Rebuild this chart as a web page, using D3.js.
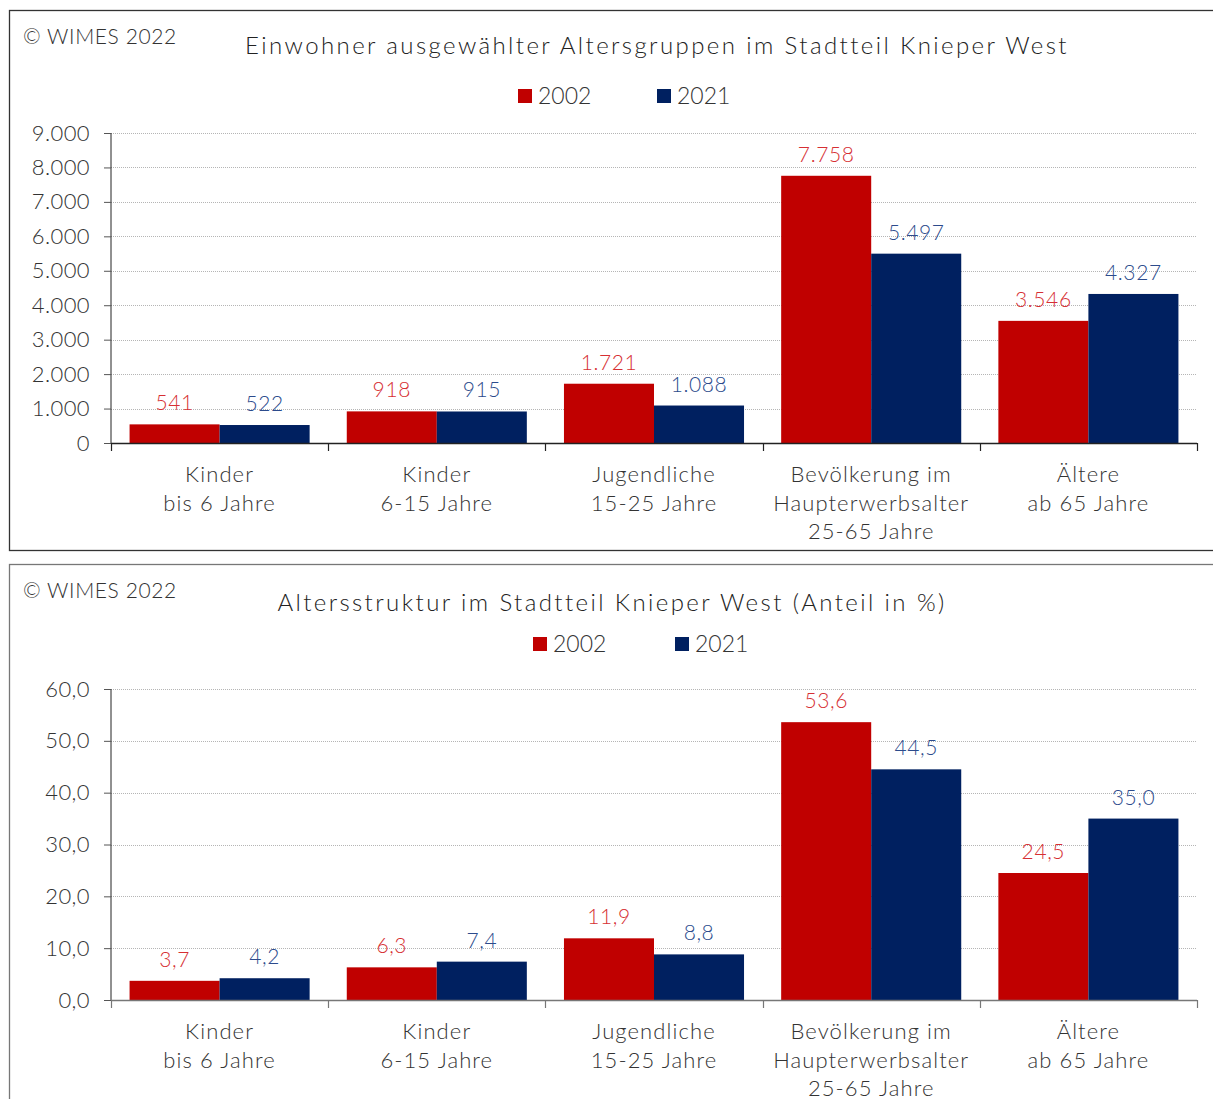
<!DOCTYPE html>
<html>
<head>
<meta charset="utf-8">
<script src="https://cdn.jsdelivr.net/npm/d3@7"></script>
<style>
  body { margin: 0; background: #fff; }
  svg text { font-family: Lato, "Open Sans", sans-serif; font-weight: 300; fill: #333; }
</style>
</head>
<body>
<svg id="chart" width="1213" height="1099"></svg>
<script>
/* data */
var categories = [
  ["Kinder", "bis 6 Jahre"],
  ["Kinder", "6-15 Jahre"],
  ["Jugendliche", "15-25 Jahre"],
  ["Bevölkerung im", "Haupterwerbsalter", "25-65 Jahre"],
  ["Ältere", "ab 65 Jahre"]
];
var seriesNames = ["2002", "2021"];
var einwohner2002 = [541, 918, 1721, 7758, 3546];
var einwohner2021 = [522, 915, 1088, 5497, 4327];
var anteil2002 = [3.7, 6.3, 11.9, 53.6, 24.5];
var anteil2021 = [4.2, 7.4, 8.8, 44.5, 35.0];
var einwohnerTicks = [0, 1000, 2000, 3000, 4000, 5000, 6000, 7000, 8000, 9000];
var anteilTicks = [0, 10, 20, 30, 40, 50, 60];

var barColors = ["#c00000", "#002060"];
var labelColors = ["#d62f33", "#2c4b8c"];

var de = d3.formatLocale({decimal: ",", thousands: ".", grouping: [3], currency: ["", " €"]});

var svg = d3.select("#chart");

function drawPanel(cfg) {
  var g = svg.append("g");

  // frame
  g.append("rect")
    .attr("x", 9.5).attr("y", cfg.frameTop + 0.5)
    .attr("width", 1220).attr("height", cfg.frameHeight)
    .attr("fill", "none")
    .attr("stroke", cfg.frameColor)
    .attr("stroke-width", 1.3);

  g.append("text")
    .attr("x", 23).attr("y", cfg.frameTop + 34)
    .style("font-size", "21px")
    .style("letter-spacing", "0.6px")
    .text("© WIMES 2022");

  g.append("text")
    .attr("x", cfg.titleX).attr("y", cfg.titleY)
    .attr("text-anchor", "middle")
    .style("font-size", "24px")
    .style("letter-spacing", "2.4px")
    .style("fill", "#222")
    .text(cfg.title);

  // legend
  var leg = g.selectAll(".leg").data(seriesNames).enter()
    .append("g")
    .attr("transform", function(d, i) { return "translate(" + cfg.legendX[i] + "," + cfg.legendY + ")"; });
  leg.append("rect")
    .attr("x", 0).attr("y", -14).attr("width", 14).attr("height", 14)
    .attr("fill", function(d, i) { return barColors[i]; });
  leg.append("text")
    .attr("x", 20).attr("y", 1)
    .style("font-size", "23px")
    .text(function(d) { return d; });

  var x0 = d3.scaleBand()
    .domain(d3.range(categories.length))
    .range([111, 1197])
    .paddingInner(0.171)
    .paddingOuter(0.0855);
  var x1 = d3.scaleBand()
    .domain(d3.range(seriesNames.length))
    .range([0, x0.bandwidth()]);
  var y = d3.scaleLinear()
    .domain([0, d3.max(cfg.ticks)])
    .range([cfg.yBottom, cfg.yTop]);

  // grid lines
  g.selectAll(".grid").data(cfg.ticks.slice(1)).enter()
    .append("line")
    .attr("x1", 111).attr("x2", 1197)
    .attr("y1", function(d) { return Math.round(y(d)) + 0.5; })
    .attr("y2", function(d) { return Math.round(y(d)) + 0.5; })
    .attr("stroke", "#b5b5b5")
    .attr("stroke-dasharray", "1,1");

  // bars
  var groups = g.selectAll(".cat").data(categories).enter()
    .append("g")
    .attr("transform", function(d, i) { return "translate(" + x0(i) + ",0)"; });

  groups.selectAll("rect")
    .data(function(d, i) { return cfg.values.map(function(s, k) { return {k: k, v: s[i]}; }); })
    .enter().append("rect")
    .attr("x", function(d) { return x1(d.k); })
    .attr("width", x1.bandwidth())
    .attr("y", function(d) { return y(d.v); })
    .attr("height", function(d) { return cfg.yBottom - y(d.v); })
    .attr("fill", function(d) { return barColors[d.k]; });

  groups.selectAll(".val")
    .data(function(d, i) { return cfg.values.map(function(s, k) { return {k: k, v: s[i]}; }); })
    .enter().append("text")
    .attr("x", function(d) { return x1(d.k) + x1.bandwidth() / 2; })
    .attr("y", function(d) { return y(d.v) - 14; })
    .attr("text-anchor", "middle")
    .style("font-size", "21px")
    .style("letter-spacing", "0.6px")
    .style("fill", function(d) { return labelColors[d.k]; })
    .text(function(d) { return cfg.fmt(d.v); });

  // y axis
  var yAxis = d3.axisLeft(y)
    .tickValues(cfg.ticks)
    .tickSize(7)
    .tickPadding(14)
    .tickFormat(cfg.fmt);
  var ya = g.append("g")
    .attr("transform", "translate(111,0)")
    .call(yAxis);
  ya.select(".domain").attr("stroke", "#222").attr("d", "M0," + cfg.yTop + "V" + cfg.yBottom);
  ya.selectAll(".tick line").attr("stroke", "#555");
  ya.selectAll(".tick text")
    .style("font-size", "22px")
    .style("letter-spacing", "0.4px")
    .style("font-family", "Lato, sans-serif")
    .style("font-weight", 300)
    .attr("fill", "#333");

  // x axis with category boundaries
  var bounds = d3.range(categories.length + 1).map(function(i) {
    return 111 + i * x0.step();
  });
  g.append("line")
    .attr("x1", 111).attr("x2", 1197)
    .attr("y1", cfg.yBottom + 0.5).attr("y2", cfg.yBottom + 0.5)
    .attr("stroke", cfg.xAxisColor).attr("stroke-width", 1.3);
  g.selectAll(".xt").data(bounds).enter()
    .append("line")
    .attr("x1", function(d) { return Math.round(d) + 0.5; })
    .attr("x2", function(d) { return Math.round(d) + 0.5; })
    .attr("y1", cfg.yBottom).attr("y2", cfg.yBottom + 8)
    .attr("stroke", cfg.xAxisColor).attr("stroke-width", 1.2);

  var labels = groups.append("text")
    .attr("text-anchor", "middle")
    .style("font-size", "22px")
    .style("letter-spacing", "1.1px");
  labels.selectAll("tspan")
    .data(function(d) { return d; })
    .enter().append("tspan")
    .attr("x", x0.bandwidth() / 2)
    .attr("y", function(d, i) { return cfg.yBottom + 39 + i * 28.5; })
    .text(function(d) { return d; });
}

drawPanel({
  frameTop: 10,
  frameHeight: 540,
  frameColor: "#333",
  title: "Einwohner ausgewählter Altersgruppen im Stadtteil Knieper West",
  titleX: 657,
  titleY: 54,
  legendX: [518, 657],
  legendY: 103,
  values: [einwohner2002, einwohner2021],
  ticks: einwohnerTicks,
  yTop: 133,
  yBottom: 443,
  xAxisColor: "#222",
  fmt: de.format(",d")
});

drawPanel({
  frameTop: 564,
  frameHeight: 560,
  frameColor: "#777",
  title: "Altersstruktur im Stadtteil Knieper West (Anteil in %)",
  titleX: 612,
  titleY: 611,
  legendX: [533, 675],
  legendY: 651,
  values: [anteil2002, anteil2021],
  ticks: anteilTicks,
  yTop: 689,
  yBottom: 1000,
  xAxisColor: "#777",
  fmt: de.format(",.1f")
});
</script>
</body>
</html>
